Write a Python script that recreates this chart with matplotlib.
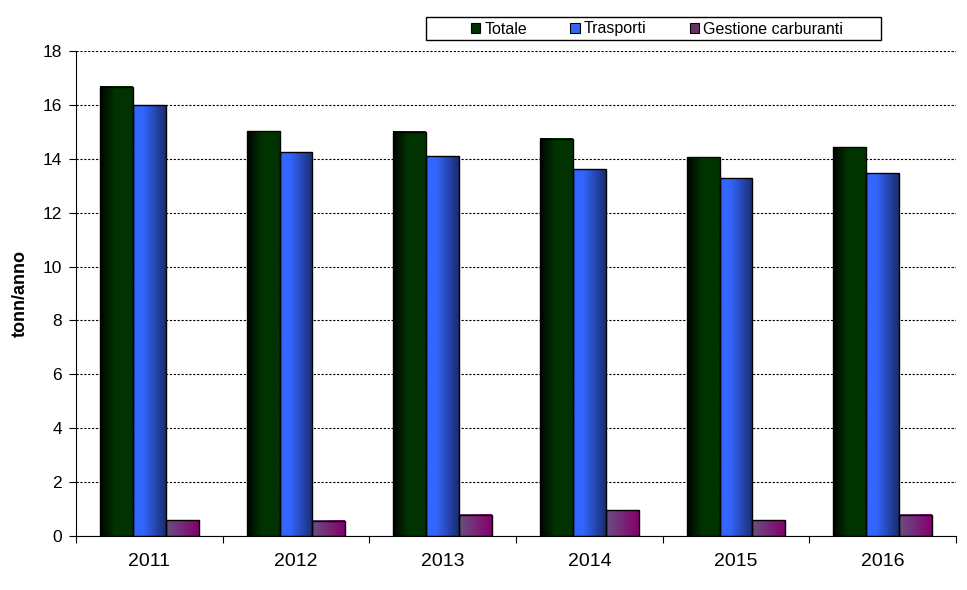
import matplotlib
matplotlib.use("Agg")
import matplotlib.pyplot as plt
import numpy as np
from matplotlib.colors import LinearSegmentedColormap
from matplotlib.patches import Patch, Rectangle

plt.rcParams["font.family"] = ["Liberation Sans", "DejaVu Sans"]

years = ["2011", "2012", "2013", "2014", "2015", "2016"]
totale = [16.68, 15.02, 15.01, 14.74, 14.06, 14.43]
trasporti = [15.98, 14.25, 14.10, 13.62, 13.28, 13.46]
gestione = [0.59, 0.56, 0.78, 0.96, 0.58, 0.78]
series_names = ["Totale", "Trasporti", "Gestione carburanti"]

# horizontal gradients (left -> right) for each series
gradients = [
    LinearSegmentedColormap.from_list(
        "tot", [(0, "#000400"), (0.45, "#003300"), (1, "#003300")]),
    LinearSegmentedColormap.from_list(
        "tra", [(0, "#3366ff"), (0.3, "#3366ff"), (1, "#1a2d70")]),
    LinearSegmentedColormap.from_list(
        "ges", [(0, "#6a5080"), (1, "#84006e")]),
]
legend_colors = ["#003300", "#3366ff", "#663366"]

W, H = 967, 590
fig = plt.figure(figsize=(W / 100, H / 100), dpi=100)
ax = fig.add_axes([0.0786, 0.0915, 0.91, 0.822])

x = np.arange(len(years))
width = 0.224
ramp = np.linspace(0, 1, 64).reshape(1, -1)
for i, vals in enumerate([totale, trasporti, gestione]):
    bars = ax.bar(x + (i - 1) * width, vals, width, facecolor="none",
                  edgecolor="black", linewidth=1.0, zorder=3)
    for b in bars:
        x0, w, h = b.get_x(), b.get_width(), b.get_height()
        ax.imshow(ramp, cmap=gradients[i], aspect="auto",
                  extent=(x0, x0 + w, 0, h), zorder=2, interpolation="bilinear")

ax.set_xlim(-0.5, len(years) - 0.5)
ax.set_ylim(0, 18)
ax.set_yticks(np.arange(0, 19, 2))
ax.yaxis.grid(True, color="black", linestyle=(0, (2, 1.5)), linewidth=0.8)
ax.set_axisbelow(True)

# x ticks between categories, labels centred below groups
ax.set_xticks(np.arange(len(years) + 1) - 0.5)
ax.set_xticklabels([])
ax.set_xticks(x, minor=True)
ax.set_xticklabels(years, minor=True, fontsize=14)
ax.tick_params(axis="x", which="minor", length=0, pad=12)
ax.tick_params(axis="x", which="major", length=5, direction="out")
ax.tick_params(axis="y", labelsize=12.5, length=5, direction="out", pad=5)

for s in ["top", "right"]:
    ax.spines[s].set_visible(False)

ax.set_ylabel("tonn/anno", fontsize=13, fontweight="bold", labelpad=10)

# legend: entries centred inside a wider box, as in the original
handles = [Patch(facecolor=c, edgecolor="black", linewidth=0.8) for c in legend_colors]
leg = fig.legend(handles, series_names, loc="center", ncol=3,
                 bbox_to_anchor=(657 / W, 1 - 29 / H), fontsize=11.5,
                 frameon=False, handlelength=0.6, handleheight=0.6,
                 handletextpad=0.25, columnspacing=2.7, borderpad=0.0,
                 borderaxespad=0)
leg._legend_handle_box.align = "top"
fig.patches.append(Rectangle((426 / W, 1 - 40 / H), 455 / W, 23 / H,
                             transform=fig.transFigure, facecolor="none",
                             edgecolor="black", linewidth=1.0))

fig.savefig("out.png", dpi=100)
